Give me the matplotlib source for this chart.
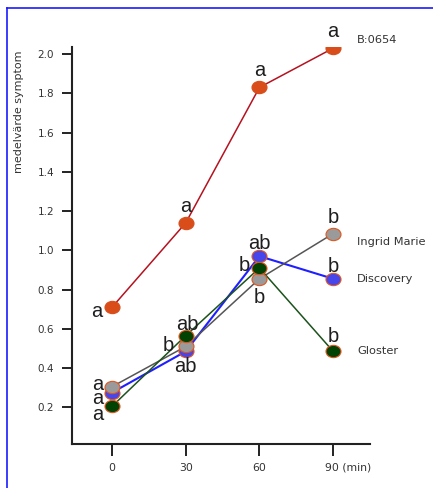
import matplotlib
matplotlib.use("Agg")
import matplotlib.pyplot as plt
from matplotlib.path import Path
from matplotlib.transforms import Affine2D, ScaledTranslation
from matplotlib.lines import Line2D

# data
times = [0, 30, 60, 90]
tick_labels = ["0", "30", "60", "90 (min)"]
series_names = ["Discovery", "Ingrid Marie", "Gloster", "B:0654"]
discovery = [0.275, 0.485, 0.97, 0.855]
ingrid = [0.305, 0.51, 0.855, 1.085]
gloster = [0.205, 0.565, 0.91, 0.485]
b0654 = [0.71, 1.14, 1.83, 2.03]
letters_discovery = ["a", "ab", "ab", "b"]
letters_ingrid = ["a", "b", "b", "b"]
letters_gloster = ["a", "ab", "b", "b"]
letters_b0654 = ["a", "a", "a", "a"]

# styles (line colour, face colour, edge colour, line width)
styles = {
    "Discovery": ("#1f1fff", "#4646ea", "#e0561e", 1.5),
    "Ingrid Marie": ("#555555", "#9a9a9a", "#e0561e", 1.1),
    "Gloster": ("#1c521c", "#024202", "#e0561e", 1.1),
    "B:0654": ("#b5121f", "#d94d1a", "#d94d1a", 1.1),
}
# letter offsets in pixels (dx, dy up to baseline)
letter_px = {
    "Discovery": [(-14, -11), (0, -21), (0, 7), (0, 7)],
    "Ingrid Marie": [(-14, -3), (-17, -5), (0, -24), (0, 11)],
    "Gloster": [(-14, -14), (2, 6), (-15, -3), (0, 9)],
    "B:0654": [(-15, -10), (0, 11), (0, 11), (0, 11)],
}
name_px = {"Discovery": 0, "Ingrid Marie": -8, "Gloster": 0, "B:0654": 8}

values = {"Discovery": discovery, "Ingrid Marie": ingrid,
          "Gloster": gloster, "B:0654": b0654}
letters = {"Discovery": letters_discovery, "Ingrid Marie": letters_ingrid,
           "Gloster": letters_gloster, "B:0654": letters_b0654}

px = 0.72  # points per pixel at dpi 100
ellipse = Path.unit_circle().transformed(Affine2D().scale(1.0, 0.82))

fig = plt.figure(figsize=(4.33, 4.88), dpi=100)
ax = fig.add_axes([72 / 433, 44 / 488, 298 / 433, 397 / 488])

# lines first, markers on top
for name in series_names:
    lc, fc, ec, lw = styles[name]
    ax.plot(times, values[name], color=lc, lw=lw, zorder=2)
for i, name in enumerate(series_names):
    lc, fc, ec, lw = styles[name]
    ax.plot(times, values[name], ls="none", marker=ellipse, ms=10.8,
            mfc=fc, mec=ec, mew=0.8, zorder=3 + i)

for name in series_names:
    for t, v, s, (dx, dy) in zip(times, values[name], letters[name], letter_px[name]):
        ax.annotate(s, xy=(t, v), xytext=(dx * px, dy * px),
                    textcoords="offset points", ha="center", va="baseline",
                    fontsize=14.5, family="Liberation Sans", color="#1e1e1e",
                    zorder=10)
    ax.annotate(name, xy=(times[-1], values[name][-1]),
                xytext=(24 * px, name_px[name] * px), textcoords="offset points",
                ha="left", va="center", fontsize=8.2, color="#333333",
                annotation_clip=False)

ax.set_xlim(-16.3, 105)
ax.set_ylim(0.013, 2.036)
ax.set_xticks(times)
ax.set_xticklabels(tick_labels)
ax.set_yticks([0.2, 0.4, 0.6, 0.8, 1.0, 1.2, 1.4, 1.6, 1.8, 2.0])
ax.set_yticklabels(["0.2", "0.4", "0.6", "0.8", "1.0", "1.2", "1.4", "1.6", "1.8", "2.0"])
ax.tick_params(axis="y", length=7, width=1.4, color="#222222", labelsize=7.5,
               labelcolor="#333333", pad=6)
ax.tick_params(axis="x", length=8.5, width=1.4, color="#222222", labelsize=7.8,
               labelcolor="#333333", pad=5)
last = ax.get_xticklabels()[-1]
last.set_horizontalalignment("left")
last.set_transform(last.get_transform() + ScaledTranslation(-8 / 100, 0, fig.dpi_scale_trans))

for side in ["top", "right"]:
    ax.spines[side].set_visible(False)
for side in ["left", "bottom"]:
    ax.spines[side].set_color("#222222")
    ax.spines[side].set_linewidth(1.5)

ax.set_ylabel("medelvärde symptom", fontsize=8, color="#333333")
ax.yaxis.set_label_coords(24 / 433, 1 - 112 / 488, transform=fig.transFigure)

# blue frame visible on the top and left
fig.add_artist(Line2D([6.5 / 433, 6.5 / 433], [0, 1 - 7.5 / 488], color="#1a1aff", lw=1.2))
fig.add_artist(Line2D([6.5 / 433, 1], [1 - 7.5 / 488, 1 - 7.5 / 488], color="#1a1aff", lw=1.2))

fig.savefig("out.png", dpi=100)
